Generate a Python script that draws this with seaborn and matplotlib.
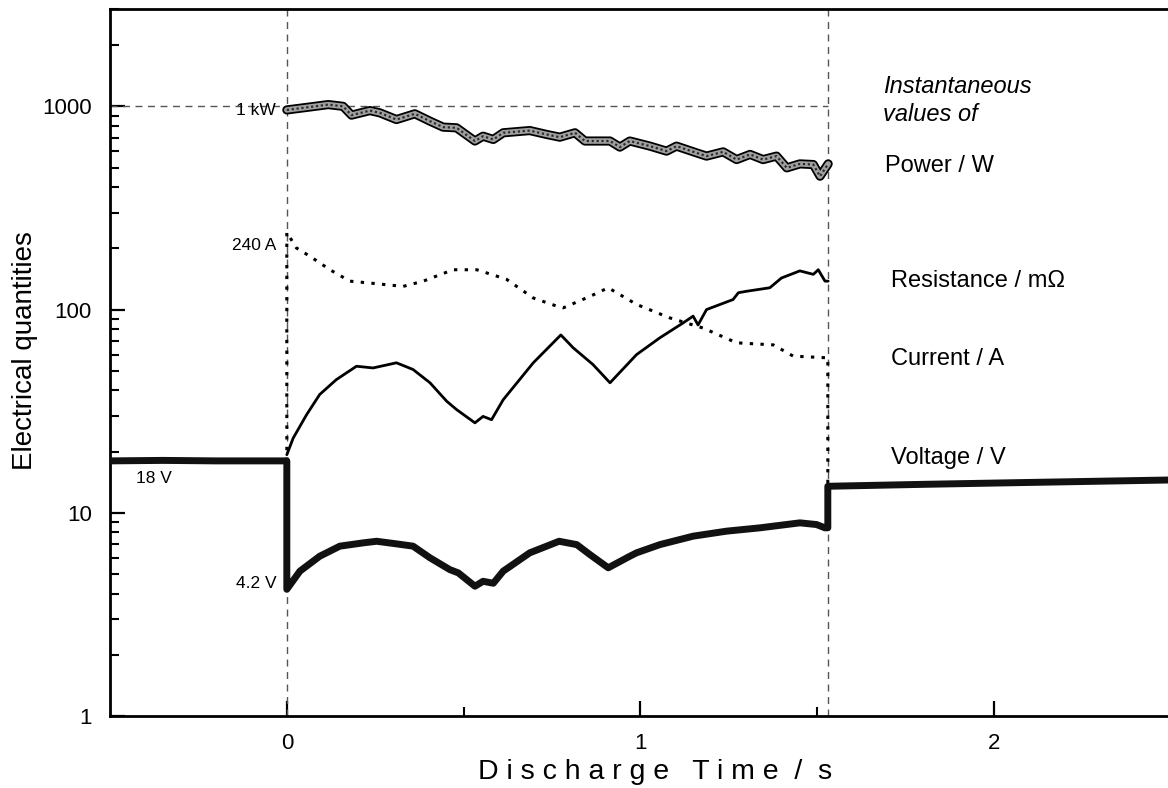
import matplotlib
matplotlib.use("Agg")
import matplotlib.pyplot as plt
import seaborn as sns
from matplotlib.ticker import FixedLocator, LogLocator, NullFormatter, FuncFormatter

sns.set_style("ticks")
plt.rcParams['font.family'] = ['Liberation Sans', 'DejaVu Sans']
plt.rcParams['text.color'] = 'black'
plt.rcParams['axes.labelcolor'] = 'black'
plt.rcParams['xtick.color'] = 'black'
plt.rcParams['ytick.color'] = 'black'

# Discharge window (s)
t_start = 0.0
t_end = 1.53

# Power / W during discharge
power_t = [0, 0.06, 0.117, 0.159, 0.183, 0.235, 0.263, 0.31, 0.362, 0.405, 0.442,
           0.48, 0.532, 0.555, 0.584, 0.612, 0.687, 0.735, 0.772, 0.815, 0.843,
           0.914, 0.942, 0.97, 1.027, 1.074, 1.102, 1.159, 1.187, 1.234, 1.272,
           1.31, 1.347, 1.385, 1.414, 1.451, 1.489, 1.508, 1.531]
power_w = [960, 990, 1020, 1000, 905, 953, 929, 861, 919, 845, 790,
           784, 675, 713, 687, 741, 760, 727, 705, 741, 675,
           675, 630, 675, 637, 602, 637, 590, 569, 597, 547,
           580, 547, 569, 498, 521, 517, 453, 521]

# Current / A (switch-on and switch-off edges included)
current_t = [0, 0, 0.027, 0.065, 0.122, 0.178, 0.235, 0.329, 0.386, 0.47, 0.537,
             0.621, 0.697, 0.763, 0.782, 0.857, 0.909, 0.989, 1.083, 1.178,
             1.272, 1.376, 1.432, 1.517, 1.53, 1.53]
current_a = [18, 240, 201, 183, 157, 138, 135, 130, 138, 157, 157,
             141, 114, 104, 102, 116, 128, 106, 91, 81,
             68.6, 67, 59, 58, 58, 13.5]

# Resistance / mOhm
res_t = [0, 0.018, 0.056, 0.093, 0.14, 0.197, 0.244, 0.31, 0.357, 0.405, 0.452,
         0.48, 0.532, 0.555, 0.579, 0.612, 0.697, 0.775, 0.81, 0.866, 0.914,
         0.989, 1.055, 1.121, 1.149, 1.163, 1.187, 1.262, 1.277, 1.3, 1.366,
         1.399, 1.451, 1.489, 1.503, 1.522, 1.531]
res_mohm = [19.3, 23.3, 30.4, 38.2, 45.2, 52.6, 51.6, 54.7, 50.7, 43.6, 35.4,
            32.2, 27.7, 29.8, 28.7, 36, 54.7, 75, 64.8, 53.6, 43.6,
            60, 72.6, 86, 92.8, 84, 100, 112, 121, 123, 128,
            143, 155, 149, 157, 138, 138]

# Voltage / V (open circuit before and after the discharge)
volt_t = [-0.5, -0.35, -0.2, 0, 0, 0.037, 0.093, 0.15, 0.216, 0.254, 0.31, 0.357,
          0.405, 0.461, 0.485, 0.532, 0.555, 0.584, 0.612, 0.687, 0.77, 0.82,
          0.857, 0.909, 0.97, 0.989, 1.055, 1.149, 1.244, 1.338, 1.451, 1.498,
          1.522, 1.53, 1.53, 1.8, 2.1, 2.5]
volt_v = [18, 18.1, 18, 18, 4.2, 5.16, 6.11, 6.85, 7.11, 7.24, 7.03, 6.85,
          6.0, 5.25, 5.06, 4.35, 4.6, 4.5, 5.16, 6.35, 7.24, 6.97,
          6.23, 5.36, 6.11, 6.35, 6.97, 7.67, 8.12, 8.43, 8.92, 8.75,
          8.43, 8.43, 13.5, 13.8, 14.1, 14.5]

y_ticks = [1, 10, 100, 1000]
x_ticks = [0, 1, 2]
x_minor = [0.5, 1.5]

series_names = ["Power / W", "Resistance / m\u03a9", "Current / A", "Voltage / V"]
series_y = [509, 138, 56.8, 18.6]

fig = plt.figure(figsize=(11.68, 7.88), dpi=100)
ax = fig.add_axes([0.0942, 0.0914, 0.9082, 0.8967])
ax.set_yscale("log")
ax.set_xlim(-0.5, 2.5)
ax.set_ylim(1, 3000)

# reference lines: 1 kW level and discharge start / end
ref = dict(color="#555555", lw=1.0, linestyle=(0, (5, 4)), zorder=1)
ax.plot([-0.5, t_end], [1000, 1000], **ref)
ax.axvline(t_start, **ref)
ax.axvline(t_end, **ref)

# power: textured ribbon
sns.lineplot(x=power_t, y=power_w, ax=ax, color="black", linewidth=6.6,
             estimator=None, sort=False, zorder=3)
sns.lineplot(x=power_t, y=power_w, ax=ax, color="#a0a0a0", linewidth=4.0,
             estimator=None, sort=False, zorder=4)
sns.lineplot(x=power_t, y=power_w, ax=ax, color="#2a2a2a", linewidth=1.6,
             linestyle=(0, (1, 1.2)), estimator=None, sort=False, zorder=5)

# current: dotted
sns.lineplot(x=current_t, y=current_a, ax=ax, color="black", linewidth=2.2,
             linestyle=(0, (1.1, 2.4)), estimator=None, sort=False, zorder=3)

# resistance: solid
sns.lineplot(x=res_t, y=res_mohm, ax=ax, color="black", linewidth=2.0,
             estimator=None, sort=False, zorder=3)

# voltage: heavy line
sns.lineplot(x=volt_t, y=volt_v, ax=ax, color="#111111", linewidth=5.0,
             estimator=None, sort=False, zorder=6)

# value annotations
ann = dict(fontsize=12.5, va="center", color="black")
ax.text(-0.03, 950, "1 kW", ha="right", **ann)
ax.text(-0.03, 206, "240 A", ha="right", **ann)
ax.text(-0.427, 14.8, "18 V", ha="left", **ann)
ax.text(-0.03, 4.5, "4.2 V", ha="right", **ann)

# series captions on the right
ax.text(1.686, 1070, "Instantaneous\nvalues of", ha="left", va="center",
        fontsize=17, style="italic", linespacing=1.25)
ax.text(1.692, series_y[0], series_names[0], ha="left", va="center", fontsize=17)
for name, yv in zip(series_names[1:], series_y[1:]):
    ax.text(1.71, yv, name, ha="left", va="center", fontsize=17)

# axes styling
ax.yaxis.set_major_locator(FixedLocator(y_ticks))
ax.yaxis.set_major_formatter(FuncFormatter(lambda v, p: f"{v:g}"))
ax.yaxis.set_minor_locator(LogLocator(base=10, subs=range(2, 10), numticks=20))
ax.yaxis.set_minor_formatter(NullFormatter())
ax.xaxis.set_major_locator(FixedLocator(x_ticks))
ax.xaxis.set_minor_locator(FixedLocator(x_minor))
ax.tick_params(which="both", left=True, bottom=True, top=False, right=False)
ax.tick_params(which="major", direction="in", length=11, width=1.6,
               labelsize=16, colors="black")
ax.tick_params(axis="y", which="major", pad=13)
ax.tick_params(axis="x", which="major", pad=12)
ax.tick_params(which="minor", direction="in", length=6.5, width=1.5)
for side in ["left", "bottom", "top"]:
    ax.spines[side].set_linewidth(2.0)
    ax.spines[side].set_color("black")
ax.spines["right"].set_visible(False)

ax.set_ylabel("Electrical quantities", fontsize=20)
ax.yaxis.label.set_va("center")
ax.yaxis.set_label_coords(-0.080, 0.517)
ax.set_xlabel("D i s c h a r g e   T i m e  /  s", fontsize=20.5,
              family=["Liberation Sans Narrow", "Liberation Sans"])
ax.xaxis.label.set_va("center")
ax.xaxis.set_label_coords(0.514, -0.079)

fig.savefig("out.png", dpi=100)
